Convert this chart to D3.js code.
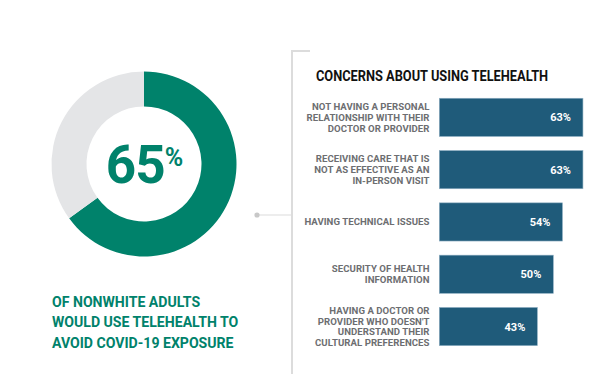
<!DOCTYPE html>
<html lang="en">
<head>
    <meta charset="UTF-8">
    <title>Concerns About Using Telehealth</title>
    <script src="https://d3js.org/d3.v7.min.js"></script>
    <style>
        body {
            margin: 0;
            background-color: #ffffff;
            font-family: 'Roboto', 'Liberation Sans', sans-serif;
        }
        .cat-label {
            fill: #6d6e71;
            font-size: 9.6px;
            font-weight: bold;
            letter-spacing: 0.05px;
        }
        .val-label {
            fill: #ffffff;
            font-size: 11px;
            font-weight: bold;
        }
        .title {
            fill: #111111;
            font-size: 14px;
            font-weight: bold;
        }
        .caption {
            fill: #00826b;
            font-size: 15.5px;
            font-weight: bold;
        }
    </style>
</head>
<body>
    <svg id="chart"></svg>

    <script>
        // Data
        const donutValue = 65;
        const donutCaption = ["OF NONWHITE ADULTS", "WOULD USE TELEHEALTH TO", "AVOID COVID-19 EXPOSURE"];
        const chartTitle = "CONCERNS ABOUT USING TELEHEALTH";
        const categories = [
            ["NOT HAVING A PERSONAL", "RELATIONSHIP WITH THEIR", "DOCTOR OR PROVIDER"],
            ["RECEIVING CARE THAT IS", "NOT AS EFFECTIVE AS AN", "IN-PERSON VISIT"],
            ["HAVING TECHNICAL ISSUES"],
            ["SECURITY OF HEALTH", "INFORMATION"],
            ["HAVING A DOCTOR OR", "PROVIDER WHO DOESN'T", "UNDERSTAND THEIR", "CULTURAL PREFERENCES"]
        ];
        const values = [63, 63, 54, 50, 43];

        const W = 612, H = 374;
        const green = "#00826b", grey = "#e4e5e7", barColor = "#1f5b7a";

        const svg = d3.select("#chart")
            .attr("width", W)
            .attr("height", H);

        // ---- donut ----
        const cx = 144, cy = 164, rOuter = 92.5, rInner = 57.5;
        const pie = d3.pie().sort(null).value(d => d);
        const arc = d3.arc().innerRadius(rInner).outerRadius(rOuter);
        const donut = svg.append("g").attr("transform", `translate(${cx},${cy})`);

        donut.selectAll("path")
            .data(pie([donutValue, 100 - donutValue]))
            .enter()
            .append("path")
            .attr("d", arc)
            .attr("fill", (d, i) => i === 0 ? green : grey);

        const bigText = donut.append("text")
            .attr("y", 19)
            .attr("text-anchor", "middle")
            .attr("fill", green)
            .style("font-weight", "bold")
            .style("font-size", "53px")
            .style("letter-spacing", "-1px");
        bigText.append("tspan").text(donutValue);
        bigText.append("tspan")
            .attr("dy", -17)
            .style("font-size", "25px")
            .text("%");

        // caption below donut
        const caption = svg.append("g").attr("transform", "translate(52,307) scale(0.91,1)");
        caption.selectAll("text")
            .data(donutCaption)
            .enter()
            .append("text")
            .attr("class", "caption")
            .attr("x", 0)
            .attr("y", (d, i) => i * 20.5)
            .text(d => d);

        // bracket and connector
        const lineColor = "#dcdcdc";
        svg.append("path")
            .attr("d", "M310,51 H292 V374")
            .attr("fill", "none")
            .attr("stroke", lineColor)
            .attr("stroke-width", 2);
        svg.append("line")
            .attr("x1", 257).attr("x2", 292)
            .attr("y1", 215).attr("y2", 215)
            .attr("stroke", lineColor)
            .attr("stroke-width", 1.2);
        svg.append("circle")
            .attr("cx", 257).attr("cy", 215).attr("r", 2.6)
            .attr("fill", "#c8c8c8");

        // ---- bar chart ----
        svg.append("text")
            .attr("class", "title")
            .attr("transform", "translate(316,81) scale(0.915,1)")
            .text(chartTitle);

        const x = d3.scaleLinear()
            .domain([0, 100])
            .range([439.3, 667.3]);

        const y = d3.scaleBand()
            .domain(d3.range(values.length))
            .range([91.2, 352.7])
            .paddingInner(0.27)
            .paddingOuter(0.135);

        const rows = svg.selectAll(".row")
            .data(values)
            .enter()
            .append("g")
            .attr("class", "row");

        rows.append("rect")
            .attr("x", x(0))
            .attr("y", (d, i) => y(i))
            .attr("width", d => x(d) - x(0))
            .attr("height", y.bandwidth())
            .attr("fill", barColor)
            .attr("stroke", "#8eaec2")
            .attr("stroke-width", 0.6);

        rows.append("text")
            .attr("class", "val-label")
            .attr("x", d => x(d) - 12)
            .attr("y", (d, i) => y(i) + y.bandwidth() / 2)
            .attr("dy", "0.36em")
            .attr("text-anchor", "end")
            .text(d => d + "%");

        // category labels, multi-line, right aligned
        const lineH = 10.8;
        rows.each(function(d, i) {
            const lines = categories[i];
            const mid = y(i) + y.bandwidth() / 2;
            const top = mid - (lines.length - 1) * lineH / 2;
            d3.select(this).selectAll(".cat-label")
                .data(lines)
                .enter()
                .append("text")
                .attr("class", "cat-label")
                .attr("x", 429.5)
                .attr("y", (l, j) => top + j * lineH)
                .attr("dy", "0.36em")
                .attr("text-anchor", "end")
                .text(l => l);
        });
    </script>
</body>
</html>
